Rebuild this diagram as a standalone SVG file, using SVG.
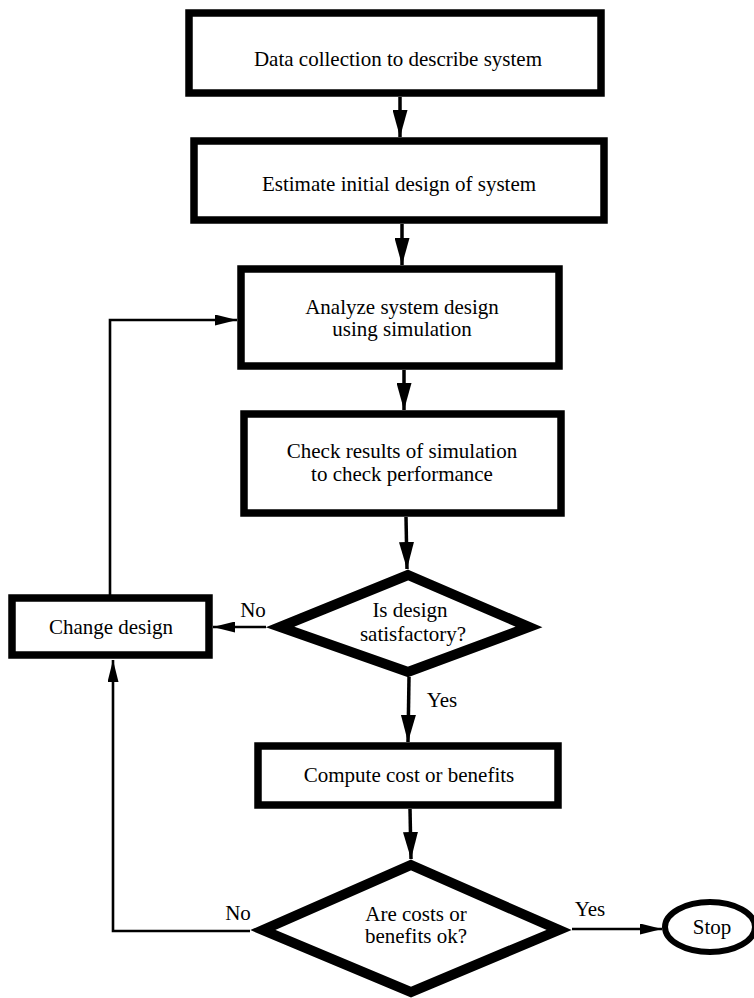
<svg xmlns="http://www.w3.org/2000/svg" width="754" height="998" viewBox="0 0 754 998">
  <defs>
    <marker id="big" viewBox="0 0 27 15" refX="27" refY="7.5" markerWidth="27" markerHeight="15" markerUnits="userSpaceOnUse" orient="auto">
      <path d="M0,0 L27,7.5 L0,15 Z" fill="#000"/>
    </marker>
    <marker id="small" viewBox="0 0 22 11" refX="22" refY="5.5" markerWidth="22" markerHeight="11" markerUnits="userSpaceOnUse" orient="auto">
      <path d="M0,0 L22,5.5 L0,11 Z" fill="#000"/>
    </marker>
    <style>
      .box { fill: #fff; stroke: #000; stroke-width: 7.5; }
      .dia { fill: #fff; stroke: #000; stroke-width: 10; stroke-linejoin: miter; }
      .term { fill: #fff; stroke: #000; stroke-width: 6; }
      .t { font-size: 21px; fill: #000; text-anchor: middle; }
      .main { fill: none; stroke: #000; stroke-width: 3.5; marker-end: url(#big); }
      .thin { fill: none; stroke: #000; stroke-width: 2.6; marker-end: url(#small); }
    </style>
  </defs>
  <rect width="754" height="998" fill="#fff"/>

  <g id="connectors">
    <line class="main" x1="400" y1="97" x2="400" y2="137"/>
    <line class="main" x1="402" y1="224" x2="402" y2="265"/>
    <line class="main" x1="404" y1="370" x2="404" y2="410"/>
    <line class="main" x1="406" y1="517" x2="407" y2="569"/>
    <line class="thin" x1="266" y1="627" x2="213" y2="627"/>
    <path class="thin" d="M110,595 V320 H237"/>
    <line class="main" x1="409" y1="677" x2="408" y2="742"/>
    <line class="main" x1="410" y1="809" x2="411" y2="859"/>
    <path class="thin" d="M250,931 H113 V660"/>
    <line class="thin" x1="572" y1="929" x2="662" y2="929"/>
  </g>

  <g font-family="'Liberation Serif', 'Times New Roman', Times, 'DejaVu Serif', serif">
    <g id="collect">
      <rect class="box" x="189" y="13" width="412" height="80"/>
      <text class="t" x="398" y="66">Data collection to describe system</text>
    </g>

    <g id="estimate">
      <rect class="box" x="194" y="141" width="410" height="79"/>
      <text class="t" x="399" y="191">Estimate initial design of system</text>
    </g>

    <g id="analyze">
      <rect class="box" x="241" y="269" width="318" height="97"/>
      <text class="t" x="402" y="314">Analyze system design</text>
      <text class="t" x="402" y="336">using simulation</text>
    </g>

    <g id="check">
      <rect class="box" x="244" y="414" width="317" height="99"/>
      <text class="t" x="402" y="458">Check results of simulation</text>
      <text class="t" x="402" y="481">to check performance</text>
    </g>

    <g id="satisfactory">
      <path class="dia" d="M408,575 L529,627 L408,672 L280,627 Z"/>
      <text class="t" x="410" y="617">Is design</text>
      <text class="t" x="413" y="641">satisfactory?</text>
      <text class="t" x="253" y="617">No</text>
      <text class="t" x="442" y="707">Yes</text>
    </g>

    <g id="change">
      <rect class="box" x="12" y="598" width="197" height="57"/>
      <text class="t" x="111" y="634">Change design</text>
    </g>

    <g id="compute">
      <rect class="box" x="258" y="746" width="300" height="59"/>
      <text class="t" x="409" y="782">Compute cost or benefits</text>
    </g>

    <g id="costs">
      <path class="dia" d="M411,865 L559,930 L411,992 L263,930 Z"/>
      <text class="t" x="416" y="921">Are costs or</text>
      <text class="t" x="416" y="943">benefits ok?</text>
      <text class="t" x="238" y="920">No</text>
      <text class="t" x="590" y="916">Yes</text>
    </g>

    <g id="stop">
      <ellipse class="term" cx="710" cy="927" rx="45" ry="25"/>
      <text class="t" x="712" y="934">Stop</text>
    </g>
  </g>
</svg>
